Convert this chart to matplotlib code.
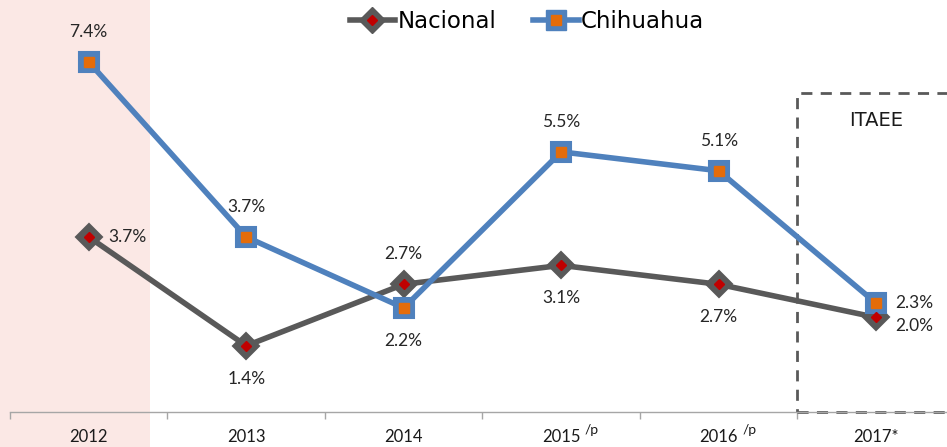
import matplotlib
matplotlib.use("Agg")
import matplotlib.pyplot as plt
from matplotlib.patches import Rectangle
from matplotlib.lines import Line2D

years = ["2012", "2013", "2014", "2015", "2016", "2017*"]
year_suffix = ["", "", "", "/p", "/p", ""]
nacional = [3.7, 1.4, 2.7, 3.1, 2.7, 2.0]
chihuahua = [7.4, 3.7, 2.2, 5.5, 5.1, 2.3]
# label placement: 'a' above, 'b' below, 'r' right, 'rb' right-slightly-below
nac_pos = ["r", "b", "a", "b", "b", "rb"]
chi_pos = ["a", "a", "b", "a", "a", "r"]

GRAY = "#595959"
BLUE = "#4F81BD"
ORANGE = "#E46C0A"
RED = "#C00000"
PINK = "#FBE8E5"

fig = plt.figure(figsize=(9.47, 4.47), dpi=100)
# pink band behind 2012 over full height
fig.patches.append(Rectangle((0, 0), 150 / 947, 1, transform=fig.transFigure,
                             facecolor=PINK, edgecolor="none", zorder=-10))

ax = fig.add_axes([10 / 947, 35 / 447, 937 / 947, 412 / 447])
ax.patch.set_alpha(0)
x = list(range(len(years)))
ax.set_xlim(-0.5, 5.45)
ax.set_ylim(0, 412 / 47.3)

LW = 4
# lines
ax.plot(x, nacional, color=GRAY, lw=LW, solid_joinstyle="round", zorder=3)
ax.plot(x, chihuahua, color=BLUE, lw=LW, solid_joinstyle="round", zorder=3)
# markers
ax.plot(x, nacional, ls="none", marker="D", ms=13, mfc=GRAY, mec=GRAY, mew=1.5, zorder=4)
ax.plot(x, nacional, ls="none", marker="D", ms=5, mfc=RED, mec=RED, zorder=5)
ax.plot(x, chihuahua, ls="none", marker="s", ms=14, mfc=BLUE, mec=BLUE, mew=1.5, zorder=4)
ax.plot(x, chihuahua, ls="none", marker="s", ms=6.5, mfc=ORANGE, mec=ORANGE, zorder=5)

lab_font = dict(fontsize=12.5, color="#262626", family=["Lato", "DejaVu Sans"])
offs = {"a": (0, 16, "center", "bottom"), "b": (0, -18, "center", "top"),
        "r": (14, 0, "left", "center"), "rb": (14, -6, "left", "center")}
for vals, pos in ((nacional, nac_pos), (chihuahua, chi_pos)):
    for xi, v, p in zip(x, vals, pos):
        dx, dy, ha, va = offs[p]
        ax.annotate(f"{v:.1f}%", (xi, v), xytext=(dx, dy), textcoords="offset points",
                    ha=ha, va=va, **lab_font)

# axes styling
for s in ["top", "right", "left"]:
    ax.spines[s].set_visible(False)
ax.spines["bottom"].set_color("#A6A6A6")
ax.spines["bottom"].set_linewidth(1)
ax.set_yticks([])
ax.set_xticks([i - 0.5 for i in range(6)])
ax.set_xticklabels([])
ax.tick_params(axis="x", direction="out", length=5, color="#A6A6A6", width=1)
ax.set_xticks(x, minor=True)
ax.set_xticklabels(years, minor=True, fontsize=12, color="#1a1a1a",
                   family=["Lato", "DejaVu Sans"])
ax.tick_params(axis="x", which="minor", length=0, pad=12)
for xi, suf in zip(x, year_suffix):
    if suf:
        ax.annotate(suf, (xi, 0), xycoords=("data", "data"), xytext=(17, -9),
                    textcoords="offset points", ha="left", va="top", fontsize=10,
                    color="#1a1a1a", family=["Lato", "DejaVu Sans"],
                    annotation_clip=False)

# dashed ITAEE box
ax.add_patch(Rectangle((4.5, 0), 1.2, (412 - 93) / 47.3, fill=False, edgecolor=GRAY,
                       lw=2, ls=(0, (4, 3)), zorder=2, clip_on=False))
ax.text(5.0, (412 - 120) / 47.3, "ITAEE", ha="center", va="center", fontsize=14,
        color="#1a1a1a", family=["DejaVu Sans"])

# legend
handles = [
    (Line2D([], [], color=GRAY, lw=LW), Line2D([], [], ls="none", marker="D", ms=13, mfc=GRAY, mec=GRAY),
     Line2D([], [], ls="none", marker="D", ms=5, mfc=RED, mec=RED)),
    (Line2D([], [], color=BLUE, lw=LW), Line2D([], [], ls="none", marker="s", ms=14, mfc=BLUE, mec=BLUE),
     Line2D([], [], ls="none", marker="s", ms=6.5, mfc=ORANGE, mec=ORANGE)),
]
leg = fig.legend(handles, ["Nacional", "Chihuahua"], loc="center",
                 bbox_to_anchor=(527 / 947, 1 - 22 / 447), ncol=2, frameon=False,
                 prop=dict(family="DejaVu Sans", size=16.5), handlelength=2.0,
                 handletextpad=0.1, columnspacing=1.6)

fig.savefig("out.png", dpi=100)
